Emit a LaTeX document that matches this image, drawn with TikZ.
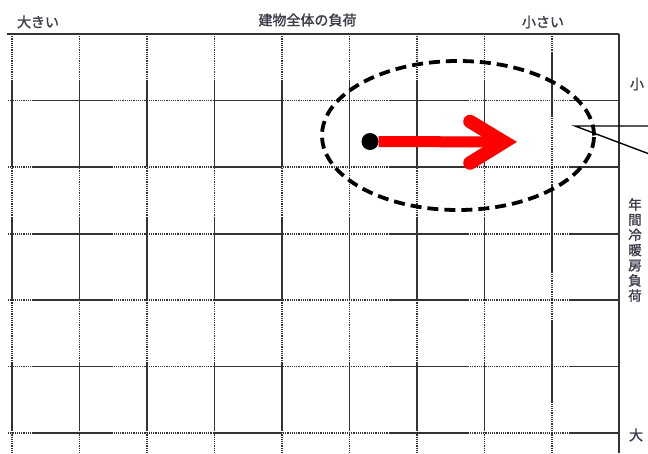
\documentclass[tikz,border=0pt]{standalone}
\usepackage{fontspec}
\usetikzlibrary{shapes.geometric}
\newfontfamily\jp[FakeBold=1.6]{Noto Sans CJK JP}
\definecolor{gridc}{HTML}{333333}
\definecolor{txtc}{HTML}{3C3C4A}
\begin{document}
\begin{tikzpicture}[x=1pt,y=-1pt,
  gsolid/.style={draw=gridc,line width=1.4pt},
  gdot/.style={draw=gridc,line width=1.4pt,dash pattern=on 1.1pt off 1.1pt},
  lbl/.style={text=txtc,font=\jp\fontsize{14}{15}\selectfont,inner sep=0pt},
  ring/.style={draw=black,line width=3.8pt,dash pattern=on 11pt off 6pt}]
\useasboundingbox (0,0) rectangle (648,453);
% horizontal grid lines
\foreach \y in {100.7,167,234,300,366.5,433}{
  \draw[gdot] (8,\y) -- (619,\y);
  \foreach \a/\b in {33/113,213/282,390/468,570/619}{
    \draw[gsolid] (\a,\y) -- (\b,\y);}
}
% vertical grid lines
\foreach \x in {12,79.5,147,214.5,282,349.5,417,484.5}{
  \draw[gdot] (\x,34) -- (\x,453);
  \foreach \a/\b in {80/167,217/300,363/430}{
    \draw[gsolid] (\x,\a) -- (\x,\b);}
}
\draw[gdot] (552,34) -- (552,453);
\foreach \a/\b in {53/117,185/273,320/403}{
  \draw[gsolid] (552,\a) -- (552,\b);}
% borders
\draw[gsolid] (7,34) -- (619,34);
\draw[gsolid] (619,34) -- (619,453);
% labels
\node[lbl] (big) at (38,22) {大きい};
\node[lbl] (title) at (307.5,20) {建物全体の負荷};
\node[lbl] (small) at (543,22) {小さい};
\node[lbl] (rsmall) at (637,84) {小};
\node[lbl,align=center,font=\jp\fontsize{13.5}{15.2}\selectfont] (rtitle) at (635,250) {年\\間\\冷\\暖\\房\\負\\荷};
\node[lbl] (rbig) at (636,435) {大};
% dashed ellipse
\node[ring,ellipse,minimum width=272pt,minimum height=149pt,inner sep=0pt] (ring) at (458,135.5) {};
% red arrow
\node[circle,fill=black,minimum size=17pt,inner sep=0pt] (dot) at (370,141.5) {};
\coordinate (tip) at (504,142);
\draw[red,line width=11pt] (dot.east) -- (tip);
\draw[red,line width=13.5pt,line cap=round,line join=miter] (470,121.5) -- (tip) -- (470,163);
% callout
\coordinate (co) at (575,126);
\coordinate (coA) at (648,126);
\coordinate (coB) at (648,153.5);
\draw[black,line width=1.4pt] (coA) -- (co) -- (coB);
\end{tikzpicture}
\end{document}
